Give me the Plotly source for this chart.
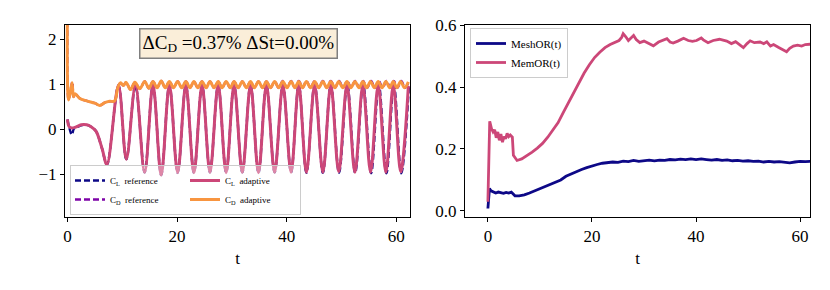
import plotly.graph_objects as go

# ---------------- data ----------------
# Left panel: lift coefficient, adaptive run (key points of the signal)
cl_ad_t = [0.0, 0.3, 0.8, 1.5, 2.5, 3.5, 4.3, 5.2, 6.3, 7.2, 9.3, 10.74, 12.4, 14.08, 15.6, 17.1,
           18.6, 20.1, 21.6, 23.07, 24.55, 26.0, 27.5, 28.95, 30.4, 31.9, 33.4, 34.85, 36.3,
           37.8, 39.3, 40.8, 42.2, 43.6, 45.1, 46.6, 48.05, 49.5, 51.0, 52.45, 53.9, 55.3,
           56.7, 58.1, 59.45, 60.8, 62.2]
cl_ad_v = [0.22, 0.06, 0.03, 0.05, 0.10, 0.10, 0.06, -0.04, -0.42, -0.78, 0.97, -0.66, 0.97, -0.95,
           0.98, -1.01, 0.98, -0.96, 0.98, -0.96, 0.98, -0.95, 0.98, -0.96, 0.98, -0.95, 0.98,
           -0.96, 0.98, -0.95, 0.98, -0.95, 0.98, -0.95, 0.98, -0.95, 0.98, -0.94, 0.98, -0.95,
           0.98, -0.95, 0.98, -0.95, 0.98, -0.94, 0.96]

# Lift coefficient, reference run
cl_ref_t = [0.0, 0.3, 0.8, 1.2, 1.8, 2.5, 3.5, 4.3, 5.2, 6.3, 7.2, 9.3, 10.74, 12.4, 14.08, 15.6,
            17.1, 18.6, 20.1, 21.6, 23.07, 24.55, 26.0, 27.5, 28.95, 30.4, 31.9, 33.4, 34.85,
            36.3, 37.8, 39.3, 40.8, 42.2, 43.6, 45.1, 46.6, 48.05, 49.55, 51.05, 52.5, 53.95,
            55.4, 56.8, 58.2, 59.55, 60.9, 62.3]
cl_ref_v = [0.22, 0.05, -0.12, 0.02, 0.05, 0.09, 0.10, 0.06, -0.04, -0.42, -0.78, 0.97, -0.66, 0.97,
            -0.95, 0.98, -1.01, 0.98, -0.96, 0.98, -0.96, 0.98, -0.95, 0.98, -0.96, 0.98, -0.95,
            0.98, -0.96, 0.98, -0.95, 0.98, -0.95, 0.99, -0.96, 0.99, -0.96, 0.99, -0.96, 0.99,
            -0.96, 0.99, -0.97, 0.99, -0.97, 0.99, -0.97, 0.95]

# Drag coefficient, adaptive run
cd_ad_t = [0.0, 0.2, 0.55, 0.85, 1.1, 1.4, 2.2, 3.5, 5.0, 5.9, 6.8, 7.7, 8.6, 9.2, 9.7, 10.2, 10.7,
           11.5, 12.3, 13.2, 14.1, 14.85, 15.6, 16.35, 17.1, 17.85, 18.6, 19.35, 20.1, 20.85,
           21.6, 22.35, 23.07, 23.8, 24.55, 25.3, 26.0, 26.75, 27.5, 28.2, 28.95, 29.7, 30.4,
           31.15, 31.9, 32.65, 33.4, 34.1, 34.85, 35.6, 36.3, 37.05, 37.8, 38.55, 39.3, 40.05,
           40.8, 41.5, 42.2, 42.9, 43.6, 44.35, 45.1, 45.85, 46.6, 47.3, 48.05, 48.8, 49.5,
           50.25, 51.0, 51.7, 52.45, 53.2, 53.9, 54.6, 55.3, 56.0, 56.7, 57.4, 58.1, 58.8,
           59.45, 60.1, 60.8, 61.5, 62.2]
cd_ad_v = [3.0, 0.65, 0.84, 1.03, 0.72, 0.79, 0.69, 0.63, 0.58, 0.53, 0.59, 0.62, 0.63, 0.93, 1.03,
           0.97, 1.04, 0.88, 1.04, 0.90, 1.06, 0.91, 1.06, 0.92, 1.07, 0.92, 1.06, 0.92, 1.06,
           0.92, 1.06, 0.92, 1.06, 0.92, 1.06, 0.92, 1.06, 0.92, 1.06, 0.92, 1.06, 0.92, 1.06,
           0.92, 1.06, 0.92, 1.06, 0.92, 1.06, 0.92, 1.06, 0.92, 1.06, 0.92, 1.06, 0.92, 1.06,
           0.92, 1.06, 0.92, 1.06, 0.92, 1.06, 0.92, 1.06, 0.92, 1.06, 0.92, 1.06, 0.92, 1.06,
           0.92, 1.06, 0.92, 1.06, 0.92, 1.06, 0.92, 1.06, 0.92, 1.06, 0.92, 1.06, 0.92, 1.06,
           0.92, 1.05]

# Drag coefficient, reference run
cd_ref_t = [0.0, 0.2, 0.55, 0.9, 1.1, 1.4, 2.2, 3.5, 5.0, 5.9, 6.8, 7.7, 8.6, 9.2, 9.7, 10.2, 10.7,
            11.5, 12.3, 13.2, 14.1, 14.85, 15.6, 16.35, 17.1, 17.85, 18.6, 19.35, 20.1, 20.85,
            21.6, 22.35, 23.07, 23.8, 24.55, 25.3, 26.0, 26.75, 27.5, 28.2, 28.95, 29.7, 30.4,
            31.15, 31.9, 32.65, 33.4, 34.1, 34.85, 35.6, 36.3, 37.05, 37.8, 38.55, 39.3, 40.05,
            40.8, 41.5, 42.2, 42.9, 43.6, 44.35, 45.1, 45.85, 46.6, 47.3, 48.05, 48.8, 49.55,
            50.3, 51.05, 51.75, 52.5, 53.25, 53.95, 54.65, 55.4, 56.1, 56.8, 57.5, 58.2, 58.9,
            59.55, 60.2, 60.9, 61.6, 62.3]
cd_ref_v = [3.0, 0.66, 0.86, 1.05, 0.72, 0.79, 0.69, 0.63, 0.58, 0.53, 0.59, 0.62, 0.63, 0.93, 1.03,
            0.97, 1.04, 0.88, 1.04, 0.90, 1.06, 0.91, 1.06, 0.92, 1.07, 0.92, 1.06, 0.92, 1.06,
            0.92, 1.06, 0.92, 1.06, 0.92, 1.06, 0.92, 1.06, 0.92, 1.06, 0.92, 1.06, 0.92, 1.06,
            0.92, 1.06, 0.92, 1.06, 0.92, 1.06, 0.92, 1.06, 0.92, 1.06, 0.92, 1.07, 0.92, 1.07,
            0.92, 1.07, 0.92, 1.07, 0.92, 1.07, 0.92, 1.07, 0.92, 1.07, 0.92, 1.07, 0.92, 1.07,
            0.92, 1.07, 0.92, 1.07, 0.92, 1.07, 0.92, 1.07, 0.92, 1.07, 0.92, 1.07, 0.92, 1.07,
            0.92, 1.06]

# Right panel: occupancy ratios
mesh_t = [0.0, 0.3, 0.6, 1.0, 1.5, 2.0, 2.5, 3.0, 3.5, 4.0, 4.5, 4.8, 5.2, 6, 7, 8, 9, 10, 11,
          12, 13, 14, 15, 16, 17, 18, 19, 20, 21, 22, 23, 24, 25, 26, 27, 28, 29, 30, 31, 32,
          33, 34, 35, 36, 37, 38, 39, 40, 41, 42, 43, 44, 45, 46, 47, 48, 49, 50, 51, 52, 53,
          54, 55, 56, 57, 58, 59, 60, 61, 62]
mesh_v = [0.008, 0.072, 0.065, 0.063, 0.058, 0.061, 0.059, 0.057, 0.060, 0.058, 0.061, 0.056,
          0.049, 0.049, 0.052, 0.058, 0.065, 0.073, 0.080, 0.087, 0.093, 0.100, 0.112, 0.120,
          0.127, 0.134, 0.140, 0.146, 0.150, 0.154, 0.156, 0.158, 0.157, 0.161, 0.159, 0.163,
          0.160, 0.162, 0.164, 0.162, 0.164, 0.163, 0.166, 0.165, 0.167, 0.166, 0.168, 0.166,
          0.168, 0.166, 0.164, 0.166, 0.163, 0.165, 0.162, 0.163, 0.161, 0.162, 0.160, 0.161,
          0.158, 0.160, 0.158, 0.159, 0.157, 0.155, 0.158, 0.160, 0.159, 0.160]

mem_t = [0.0, 0.35, 0.7, 1.0, 1.3, 1.6, 1.9, 2.2, 2.5, 2.8, 3.1, 3.4, 3.7, 4.0, 4.3, 4.7, 4.9, 5.6,
         6.5, 7.5, 8.5, 9.5, 10.5, 11.5, 12.5, 13.5, 14.5, 15.5, 16.5, 17.5, 18.5, 19.5, 20.5,
         21.5, 22.5, 23.5, 24.5, 25.2, 25.7, 26.0, 26.5, 27.0, 27.5, 28.0, 28.5, 29.2, 30.0,
         31.0, 31.8, 32.8, 33.6, 34.4, 35.0, 35.6, 36.5, 37.6, 38.5, 39.3, 40.1, 41.0, 41.4,
         42.3, 43.3, 44.5, 45.9, 46.8, 47.6, 48.4, 49.1, 49.8, 50.4, 51.2, 52.3, 53.0, 53.6,
         54.3, 54.9, 55.8, 56.6, 57.4, 58.0, 58.7, 59.5, 60.3, 61.0, 62.0]
mem_v = [0.030, 0.289, 0.265, 0.255, 0.262, 0.236, 0.255, 0.228, 0.248, 0.222, 0.240, 0.233,
         0.250, 0.240, 0.245, 0.238, 0.180, 0.163, 0.168, 0.178, 0.190, 0.203, 0.218, 0.238,
         0.260, 0.285, 0.318, 0.350, 0.383, 0.415, 0.445, 0.472, 0.495, 0.512, 0.527, 0.537,
         0.545, 0.550, 0.560, 0.572, 0.562, 0.550, 0.558, 0.566, 0.553, 0.543, 0.548, 0.540,
         0.533, 0.545, 0.550, 0.556, 0.545, 0.542, 0.548, 0.557, 0.550, 0.547, 0.550, 0.558,
         0.552, 0.543, 0.550, 0.554, 0.548, 0.540, 0.546, 0.535, 0.527, 0.540, 0.549, 0.543,
         0.545, 0.540, 0.546, 0.532, 0.537, 0.528, 0.522, 0.514, 0.525, 0.532, 0.535, 0.532,
         0.537, 0.538]

x_ticks = [0, 20, 40, 60]
left_y_ticks = [-1, 0, 1, 2]
right_y_ticks = [0.0, 0.2, 0.4, 0.6]

# ---------------- styling ----------------
NAVY = "#0d0887"
PURPLE = "#7e03a8"
PINK = "#cc4778"
ORANGE = "#f89540"
FONT = "Liberation Serif, DejaVu Serif, serif"

W, H = 830, 290
ML, MR, MT, MB = 65, 20, 25, 73
PW = W - ML - MR
PH = H - MT - MB


def xp(px):
    return (px - ML) / PW


def yp(py):
    return 1 - (py - MT) / PH


fig = go.Figure()

fig.add_trace(go.Scatter(x=cl_ref_t, y=cl_ref_v, mode="lines", name="C<sub>L</sub>  reference",
                         line=dict(color=NAVY, width=2.4, dash="6px,3px", shape="spline", smoothing=1),
                         legendgroup="ref", legend="legend", xaxis="x", yaxis="y"))
fig.add_trace(go.Scatter(x=cd_ref_t, y=cd_ref_v, mode="lines", name="C<sub>D</sub>  reference",
                         line=dict(color=PURPLE, width=2.4, dash="6px,3px", shape="spline", smoothing=1),
                         legendgroup="ref", legend="legend", xaxis="x", yaxis="y"))
fig.add_trace(go.Scatter(x=cl_ad_t, y=cl_ad_v, mode="lines", name="C<sub>L</sub>  adaptive",
                         line=dict(color=PINK, width=3, shape="spline", smoothing=1),
                         legendgroup="ad", legend="legend", xaxis="x", yaxis="y"))
fig.add_trace(go.Scatter(x=cd_ad_t, y=cd_ad_v, mode="lines", name="C<sub>D</sub>  adaptive",
                         line=dict(color=ORANGE, width=3, shape="spline", smoothing=1),
                         legendgroup="ad", legend="legend", xaxis="x", yaxis="y"))

fig.add_trace(go.Scatter(x=mesh_t, y=mesh_v, mode="lines", name="MeshOR(t)",
                         line=dict(color=NAVY, width=2.8), legend="legend2",
                         xaxis="x2", yaxis="y2"))
fig.add_trace(go.Scatter(x=mem_t, y=mem_v, mode="lines", name="MemOR(t)",
                         line=dict(color=PINK, width=2.8), legend="legend2",
                         xaxis="x2", yaxis="y2"))

axis_common = dict(showline=True, linecolor="black", linewidth=1, mirror=True,
                   ticks="outside", ticklen=4, tickwidth=1, tickcolor="black",
                   showgrid=False, zeroline=False, automargin=False,
                   tickfont=dict(family=FONT, size=17, color="black"))

fig.update_layout(
    width=W, height=H,
    margin=dict(l=ML, r=MR, t=MT, b=MB, autoexpand=False),
    paper_bgcolor="white", plot_bgcolor="white",
    font=dict(family=FONT, color="black"),
    xaxis=dict(domain=[xp(65), xp(410)], range=[-0.45, 62.5], tickvals=x_ticks,
               title=dict(text="t", font=dict(family=FONT, size=17), standoff=6),
               anchor="y", **axis_common),
    yaxis=dict(domain=[0, 1], range=[-1.94, 2.31], tickvals=left_y_ticks,
               anchor="x", **axis_common),
    xaxis2=dict(domain=[xp(465), xp(810)], range=[-4.4, 61.9], tickvals=x_ticks,
                title=dict(text="t", font=dict(family=FONT, size=17), standoff=6),
                anchor="y2", **axis_common),
    yaxis2=dict(domain=[0, 1], range=[-0.0194, 0.6], tickvals=right_y_ticks,
                tickformat=".1f", anchor="x2", **axis_common),
    legend=dict(x=xp(70), y=yp(215), xanchor="left", yanchor="bottom",
                orientation="h", traceorder="grouped", tracegroupgap=4,
                entrywidth=70, itemwidth=30,
                bgcolor="rgba(255,255,255,0.35)", bordercolor="#cccccc", borderwidth=1,
                font=dict(family=FONT, size=9, color="black")),
    legend2=dict(x=xp(470), y=yp(28), xanchor="left", yanchor="top",
                 orientation="v", itemwidth=30,
                 bgcolor="rgba(255,255,255,0.8)", bordercolor="#cccccc", borderwidth=1,
                 font=dict(family=FONT, size=11, color="black")),
    annotations=[dict(text="ΔC<sub>D</sub> =0.37% ΔSt=0.00%", xref="paper", yref="paper",
                      x=xp(238), y=yp(43), xanchor="center", yanchor="middle",
                      showarrow=False, font=dict(family=FONT, size=19, color="black"),
                      bgcolor="#faeed9", bordercolor="#7f7f7f", borderwidth=1.5, borderpad=2)],
)

fig.write_html("out.html", config={"displayModeBar": False},
               post_script="document.body.style.margin='0px';")
